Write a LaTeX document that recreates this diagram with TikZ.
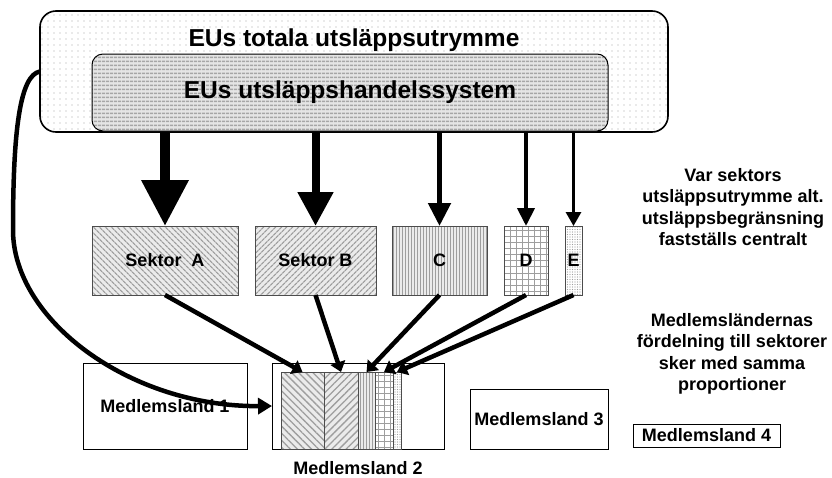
\documentclass[tikz,border=0pt]{standalone}
\usepackage{fontspec}
\setmainfont{Liberation Sans}
\usetikzlibrary{arrows.meta, patterns.meta, positioning}

\newcommand{\sktfont}{\bfseries\fontsize{18}{21.5}\selectfont}
\newcommand{\titlefont}{\bfseries\fontsize{24.5}{28}\selectfont}

\tikzset{
  box/.style={draw, inner sep=0pt, outer sep=0pt, anchor=north west, font=\sktfont, align=center},
  sektorbox/.style={box, draw=black!70, line width=0.8pt, preaction={fill=black!8}, pattern color=black!38},
  landbox/.style={box, line width=1pt},
  feed/.style n args={3}{line width=#1, -{Triangle[width=#2, length=#3]}},
  share/.style={line width=4.5pt, -{Triangle[width=15pt, length=10pt]}}
}

\begin{document}
\begin{tikzpicture}[x=1pt, y=-1pt, line join=miter]
    \useasboundingbox (0,0) rectangle (832,477);

    % EU boxes
    \node[box, line width=1.6pt, rounded corners=16pt, preaction={fill=white},
          pattern={Dots[distance=6pt, radius=0.6pt]}, pattern color=black!35,
          minimum width=628pt, minimum height=121pt] (outer) at (40,11) {};
    \node[font=\titlefont] (outerLbl) at (354,40) {EUs totala utsläppsutrymme};
    \node[box, line width=1pt, rounded corners=11pt, preaction={fill=black!10},
          pattern={Lines[angle=0, distance=4pt, line width=1.8pt]}, pattern color=black!35,
          minimum width=516pt, minimum height=77pt, font=\titlefont] (inner) at (92,54) {EUs utsläppshandelssystem};

    % Sectors
    \node[sektorbox, pattern={Lines[angle=-45, distance=4pt, line width=1.3pt]},
          minimum width=146pt, minimum height=69pt] (sA) at (92,226) {Sektor\ \ A};
    \node[sektorbox, pattern={Lines[angle=45, distance=4pt, line width=1.3pt]},
          minimum width=121pt, minimum height=69pt] (sB) at (255,226) {Sektor B};
    \node[sektorbox, pattern={Lines[angle=90, distance=3pt, line width=1pt]},
          minimum width=95pt, minimum height=69pt] (sC) at (392,226) {C};
    \node[sektorbox, preaction={fill=white}, pattern={Hatch[angle=0, distance=6pt, line width=1pt]},
          minimum width=44pt, minimum height=69pt] (sD) at (504,226) {D};
    \node[sektorbox, preaction={fill=white}, pattern={Dots[distance=2.5pt, radius=0.6pt]},
          minimum width=17pt, minimum height=69pt] (sE) at (565,226) {E};

    % Arrows from the trading system
    \draw[feed={10pt}{45pt}{46pt}] (sA.north |- outer.south) -- (sA.north);
    \draw[feed={8pt}{34pt}{34pt}] (sB.north |- outer.south) -- (sB.north);
    \draw[feed={5pt}{22pt}{23pt}] (sC.north |- outer.south) -- (sC.north);
    \draw[feed={4pt}{17pt}{18pt}] (sD.north |- outer.south) -- (sD.north);
    \draw[feed={3pt}{15pt}{14pt}] (sE.north |- outer.south) -- (sE.north);

    % Member states
    \node[landbox, minimum width=164pt, minimum height=86pt] (m1) at (83,363) {Medlemsland 1};
    \node[landbox, minimum width=172pt, minimum height=86pt] (m2) at (272,363) {};
    \node[font=\sktfont, below=9pt of m2] (m2Lbl) {Medlemsland 2};
    \node[landbox, minimum width=138pt, minimum height=60pt] (m3) at (470,389) {Medlemsland 3};
    \node[landbox, minimum width=147pt, minimum height=23pt] (m4) at (633,424) {Medlemsland 4};

    % Strips in Medlemsland 2
    \node[sektorbox, pattern={Lines[angle=-45, distance=5pt, line width=1.3pt]},
          minimum width=43pt, minimum height=77pt] (stA) at (281,372) {};
    \node[sektorbox, pattern={Lines[angle=45, distance=5pt, line width=1.3pt]},
          minimum width=34pt, minimum height=77pt] (stB) at (324,372) {};
    \node[sektorbox, pattern={Lines[angle=90, distance=3pt, line width=1pt]},
          minimum width=17pt, minimum height=77pt] (stC) at (358,372) {};
    \node[sektorbox, preaction={fill=white}, pattern={Hatch[angle=0, distance=6pt, line width=1pt]},
          minimum width=18pt, minimum height=77pt] (stD) at (375,372) {};
    \node[sektorbox, preaction={fill=white}, pattern={Dots[distance=2.5pt, radius=0.6pt]},
          minimum width=8pt, minimum height=77pt] (stE) at (393,372) {};

    % Sectors -> Medlemsland 2
    \draw[share] (sA.south) -- (stA.north);
    \draw[share] (sB.south) -- (stB.north);
    \draw[share] (sC.south) -- (stC.north);
    \draw[share] (sD.south) -- (stD.north);
    \draw[share] (sE.south) -- (stE.north);

    % Total space -> Medlemsland 2
    \coordinate (bend) at (13,230);
    \draw[line width=4.5pt, -{Triangle[width=16pt, length=14pt]}]
      (outer.west) .. controls (20,75) and (13,130) .. (bend)
      .. controls (13,320) and (130,407) .. (m2.west);

    % Notes
    \node[font=\sktfont, align=center] (note1) at (733,207)
      {Var sektors\\utsläppsutrymme alt.\\utsläppsbegränsning\\fastställs centralt};
    \node[font=\sktfont, align=center] (note2) at (732,354)
      {Medlemsländernas\\fördelning till sektorer\\sker med samma\\proportioner};
\end{tikzpicture}
\end{document}
